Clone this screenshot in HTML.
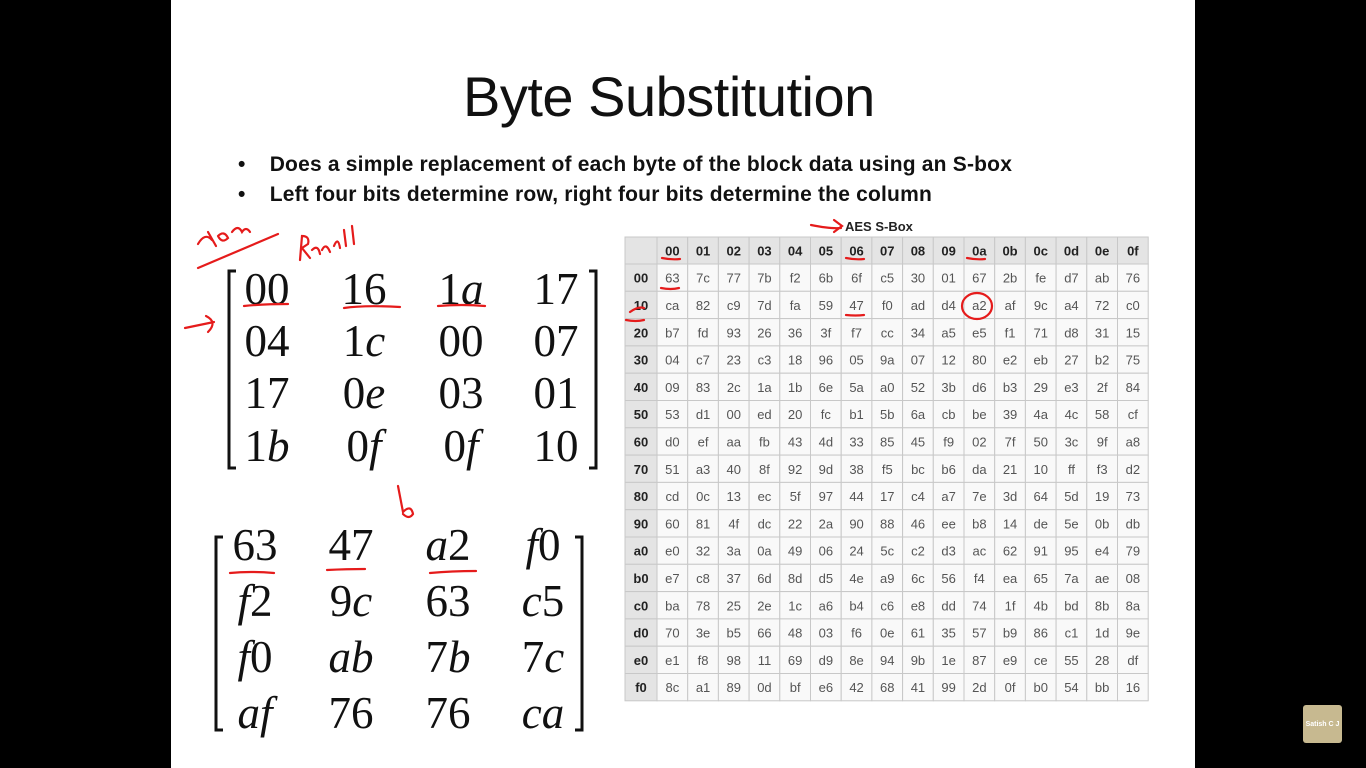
<!DOCTYPE html>
<html><head><meta charset="utf-8"><style>
body{margin:0;width:1366px;height:768px;background:#000;overflow:hidden;font-family:"Liberation Sans",sans-serif;position:relative}
#slide{position:absolute;left:171px;top:0;width:1024px;height:768px;background:#fff}
.t{position:absolute;white-space:nowrap}
.m{position:absolute;font-family:"Liberation Serif",serif;font-size:45px;color:#111;transform:translate(-50%,-50%);white-space:nowrap}
.m i{font-style:italic}
</style></head><body>
<div id="slide"></div>
<div class="t" style="left:463px;top:64px;font-size:56px;color:#111;letter-spacing:-0.5px">Byte Substitution</div>
<div class="t" style="left:238px;top:153px;font-size:21px;font-weight:bold;color:#111;letter-spacing:0.2px">•&nbsp;&nbsp;&nbsp;&nbsp;Does a simple replacement of each byte of the block data using an S-box</div>
<div class="t" style="left:238px;top:183px;font-size:21px;font-weight:bold;color:#111;letter-spacing:0.2px">•&nbsp;&nbsp;&nbsp;&nbsp;Left four bits determine row, right four bits determine the column</div>
<div class="t" style="left:845px;top:219px;font-size:13px;font-weight:bold;color:#222">AES S-Box</div>
<svg id="tbl" width="1366" height="768" style="position:absolute;left:0;top:0"></svg>
<div id="mats"></div>
<svg width="1366" height="768" style="position:absolute;left:0;top:0;pointer-events:none" fill="none" stroke="#e51b1b" stroke-width="2.2" stroke-linecap="round">
<g stroke="#111" stroke-width="3" stroke-linecap="butt">
<path d="M236 271H229V468H236"/><path d="M589 271H596V468H589"/>
<path d="M223 537H216V730H223"/><path d="M575 537H582V730H575"/>
</g>
<path d="M198 244 Q205 232 212 240 M208 232 L216 246 M218 236 q6 -6 10 2 q-6 6 -10 -2 M232 232 q6 -8 10 0 q4 -6 8 0"/>
<path d="M198 268 L278 234"/>
<path d="M300 260 L302 236 q8 0 6 8 l-6 4 l8 10 M312 250 q6 -6 8 4 M322 250 q4 -8 8 2 M334 246 q4 -10 6 2 M344 230 l2 16 M352 226 l2 18"/>
<path d="M185 328 L214 322 M206 316 q12 6 2 16"/>
<path d="M244 306 q20 -2 44 -2 M344 308 q20 -3 56 -1 M438 306 q24 -2 47 0"/>
<path d="M230 573 q20 -2 44 0 M327 570 q20 -1 38 -1 M430 573 q22 -2 46 -2"/>
<path d="M398 486 L403 512 q8 -8 10 2 q-4 6 -10 0"/>
<path d="M811 225 q20 4 30 3 M834 220 l8 6 l-8 6"/>
<path d="M662 258 q10 2 18 1 M846 258 q10 2 18 1 M967 258 q10 2 18 1 M661 288 q10 2 18 0 M846 315 q10 1 18 0 M630 312 q8 -6 14 -4 M626 320 q10 2 18 0"/>
<ellipse cx="977" cy="306" rx="15" ry="13"/>
</svg>
<div style="position:absolute;left:1303px;top:705px;width:39px;height:38px;background:#c7b990;border-radius:3px;font-size:7px;font-weight:bold;color:#fff;display:flex;align-items:center;justify-content:center">Satish C J</div>
<script>
const colHeaders=["00","01","02","03","04","05","06","07","08","09","0a","0b","0c","0d","0e","0f"];
const rowHeaders=["00","10","20","30","40","50","60","70","80","90","a0","b0","c0","d0","e0","f0"];
const sbox=[
"63 7c 77 7b f2 6b 6f c5 30 01 67 2b fe d7 ab 76",
"ca 82 c9 7d fa 59 47 f0 ad d4 a2 af 9c a4 72 c0",
"b7 fd 93 26 36 3f f7 cc 34 a5 e5 f1 71 d8 31 15",
"04 c7 23 c3 18 96 05 9a 07 12 80 e2 eb 27 b2 75",
"09 83 2c 1a 1b 6e 5a a0 52 3b d6 b3 29 e3 2f 84",
"53 d1 00 ed 20 fc b1 5b 6a cb be 39 4a 4c 58 cf",
"d0 ef aa fb 43 4d 33 85 45 f9 02 7f 50 3c 9f a8",
"51 a3 40 8f 92 9d 38 f5 bc b6 da 21 10 ff f3 d2",
"cd 0c 13 ec 5f 97 44 17 c4 a7 7e 3d 64 5d 19 73",
"60 81 4f dc 22 2a 90 88 46 ee b8 14 de 5e 0b db",
"e0 32 3a 0a 49 06 24 5c c2 d3 ac 62 91 95 e4 79",
"e7 c8 37 6d 8d d5 4e a9 6c 56 f4 ea 65 7a ae 08",
"ba 78 25 2e 1c a6 b4 c6 e8 dd 74 1f 4b bd 8b 8a",
"70 3e b5 66 48 03 f6 0e 61 35 57 b9 86 c1 1d 9e",
"e1 f8 98 11 69 d9 8e 94 9b 1e 87 e9 ce 55 28 df",
"8c a1 89 0d bf e6 42 68 41 99 2d 0f b0 54 bb 16"];
const stateIn=[["00","16","1a","17"],["04","1c","00","07"],["17","0e","03","01"],["1b","0f","0f","10"]];
const stateOut=[["63","47","a2","f0"],["f2","9c","63","c5"],["f0","ab","7b","7c"],["af","76","76","ca"]];
const NS="http://www.w3.org/2000/svg";
const svg=document.getElementById('tbl');
const X0=625,LW=32,CW=30.7,Y0=237,HH=27,RH=27.3;
function cx(i){return X0+LW+CW*i+CW/2;}
function ry(j){return Y0+HH+RH*j;}
function rect(x,y,w,h,f,name){const r=document.createElementNS(NS,'rect');r.setAttribute('x',x);r.setAttribute('y',y);r.setAttribute('width',w);r.setAttribute('height',h);r.setAttribute('fill',f);r.setAttribute('stroke','#c8c8c8');r.setAttribute('stroke-width','1');


svg.appendChild(r);}
function txt(x,y,s,bold,name){const t=document.createElementNS(NS,'text');t.setAttribute('x',x);t.setAttribute('y',y);t.setAttribute('text-anchor','middle');t.setAttribute('font-size','13');t.setAttribute('font-family','Liberation Sans, sans-serif');t.setAttribute('fill',bold?'#222':'#555');if(bold)t.setAttribute('font-weight','bold');t.textContent=s;


svg.appendChild(t);}
rect(X0,Y0,LW,HH,'#e4e4e4','corner-cell');
colHeaders.forEach((h,i)=>{rect(X0+LW+CW*i,Y0,CW,HH,'#e4e4e4','col-header');txt(cx(i),Y0+HH/2+5,h,true,'col-header-label');});
rowHeaders.forEach((h,j)=>{rect(X0,ry(j),LW,RH,'#e4e4e4','row-header');txt(X0+LW/2,ry(j)+RH/2+5,h,true,'row-header-label');
 sbox[j].split(' ').forEach((v,i)=>{rect(X0+LW+CW*i,ry(j),CW,RH,'#f9f9f9','sbox-cell');txt(cx(i),ry(j)+RH/2+5,v,false,'sbox-value');});});
const mats=document.getElementById('mats');
function fmt(s){return s.replace(/[a-f]/g,c=>'<i>'+c+'</i>');}
function drawMat(m,xs,ys,name){m.forEach((row,j)=>row.forEach((v,i)=>{const d=document.createElement('div');d.className='m';d.style.left=xs[i]+'px';d.style.top=ys[j]+'px';d.innerHTML=fmt(v);


mats.appendChild(d);}));}
drawMat(stateIn,[267,364,461,556],[289,341,393,446],'state-in-entry');
drawMat(stateOut,[255,351,448,543],[545,601,657,713],'state-out-entry');
</script>
</body></html>
